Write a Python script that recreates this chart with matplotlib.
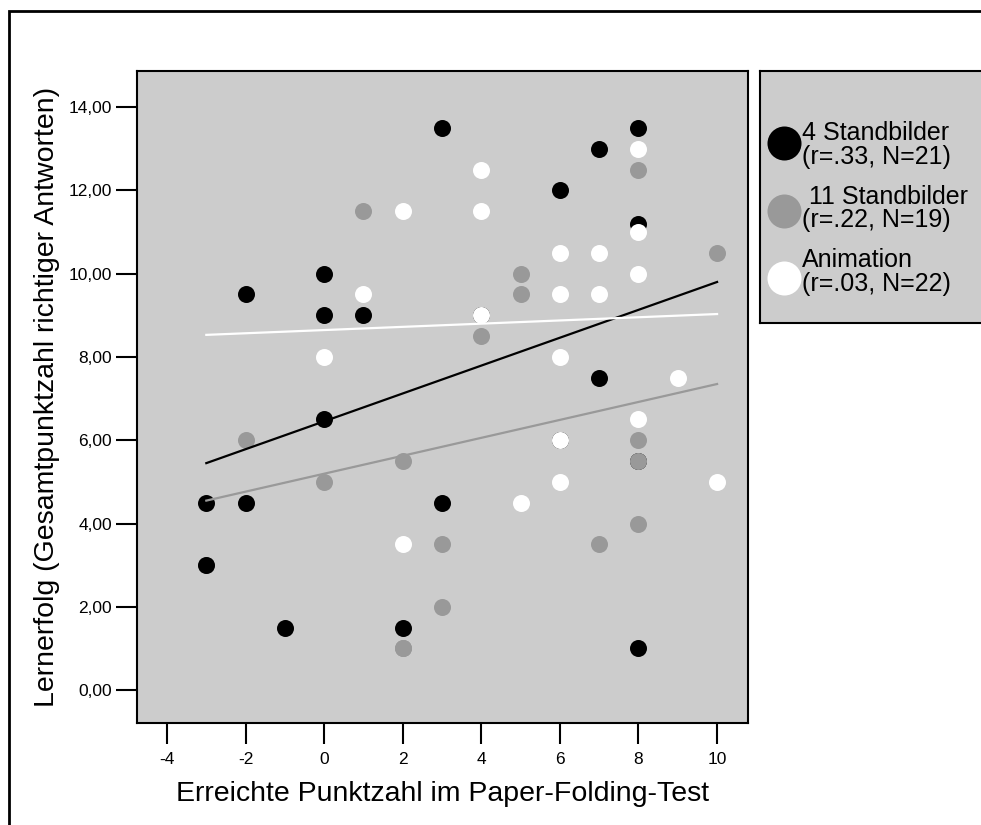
import matplotlib
matplotlib.use("Agg")
import matplotlib.pyplot as plt
from matplotlib.patches import Rectangle

plt.rcParams["font.family"] = ["Liberation Sans", "DejaVu Sans"]
plt.rcParams["axes.unicode_minus"] = False

# 4 Standbilder (black)
black_x = [-3, -3, -2, -2, -1, 0, 0, 0, 1, 2, 3, 3, 4, 6, 6, 7, 7, 8, 8, 8, 8]
black_y = [4.5, 3, 9.5, 4.5, 1.5, 10, 9, 6.5, 9, 1.5, 13.5, 4.5, 9, 12, 6, 13, 7.5, 13.5, 11.2, 5.5, 1]

# 11 Standbilder (gray); first two cases lie under black points
gray_x = [-3, -3, 2, 1, 8, 5, 5, 4, 10, -2, 2, 0, 3, 3, 2, 8, 8, 8, 7]
gray_y = [4.5, 3, 1, 11.5, 12.5, 10, 9.5, 8.5, 10.5, 6, 5.5, 5, 3.5, 2, 1, 6, 5.5, 4, 3.5]

# Animation (white); first case lies under a black point
white_x = [-3, 2, 1, 0, 4, 4, 8, 8, 6, 7, 8, 6, 7, 4, 6, 9, 2, 8, 6, 6, 5, 10]
white_y = [4.5, 11.5, 9.5, 8, 12.5, 11.5, 13, 11, 10.5, 10.5, 10, 9.5, 9.5, 9, 8, 7.5, 3.5, 6.5, 6, 5, 4.5, 5]

# regression lines
fit_x = [-3, 10]
fit_black = [5.45, 9.8]
fit_gray = [4.55, 7.35]
fit_white = [8.53, 9.03]

legend_labels = ["4 Standbilder\n(r=.33, N=21)",
                 " 11 Standbilder\n(r=.22, N=19)",
                 "Animation\n(r=.03, N=22)"]

x_ticks = [-4, -2, 0, 2, 4, 6, 8, 10]
y_ticks = [0, 2, 4, 6, 8, 10, 12, 14]
y_tick_labels = ["0,00", "2,00", "4,00", "6,00", "8,00", "10,00", "12,00", "14,00"]

BG = "#cccccc"
GRAY = "#999999"

W, H = 981, 825
fig = plt.figure(figsize=(W / 100, H / 100), dpi=100)

# outer frame
fig.add_artist(Rectangle((9 / W, -0.05), 1.2, 1 - 11 / H + 0.05, fill=False,
                         lw=2, edgecolor="black", transform=fig.transFigure))

ax = fig.add_axes([137 / W, 1 - 723 / H, 611 / W, 652 / H])
ax.set_facecolor(BG)
for s in ax.spines.values():
    s.set_linewidth(1.5)

ms = 150
ax.scatter(gray_x[:2], gray_y[:2], s=ms, color=GRAY, lw=0, zorder=2)
ax.scatter(white_x[:1], white_y[:1], s=ms, color="white", lw=0, zorder=2)
ax.scatter(black_x, black_y, s=ms, color="black", lw=0, zorder=3)
ax.scatter(gray_x[2:], gray_y[2:], s=ms, color=GRAY, lw=0, zorder=4)
ax.scatter(white_x[1:], white_y[1:], s=ms, color="white", lw=0, zorder=5)

ax.plot(fit_x, fit_black, color="black", lw=1.6, zorder=6)
ax.plot(fit_x, fit_gray, color=GRAY, lw=1.6, zorder=6)
ax.plot(fit_x, fit_white, color="white", lw=1.6, zorder=6)

ax.set_xlim(-4.764, 10.787)
ax.set_ylim(-0.79, 14.866)
ax.set_xticks(x_ticks)
ax.set_yticks(y_ticks)
ax.set_yticklabels(y_tick_labels)
ax.tick_params(direction="out", length=15, width=1.5, labelsize=12.5, pad=3)
ax.tick_params(axis="x", pad=6)
ax.set_xlabel("Erreichte Punktzahl im Paper-Folding-Test", fontsize=20.5, labelpad=10)
ax.set_ylabel("Lernerfolg (Gesamtpunktzahl richtiger Antworten)", fontsize=20.5, labelpad=6)

# legend box
lax = fig.add_axes([760 / W, 1 - 323 / H, 260 / W, 252 / H])
lax.set_facecolor(BG)
lax.set_xlim(0, 260)
lax.set_ylim(252, 0)
lax.set_xticks([])
lax.set_yticks([])
for s in lax.spines.values():
    s.set_linewidth(1.5)
leg_colors = ["black", GRAY, "white"]
for i, (lab, c) in enumerate(zip(legend_labels, leg_colors)):
    lax.scatter([24], [72 + i * 67.5], s=600, color=c, lw=0)
    lax.text(42, 74 + i * 63.5, lab, fontsize=18, va="center", ha="left", linespacing=1.0)

fig.savefig("out.png", dpi=100)
